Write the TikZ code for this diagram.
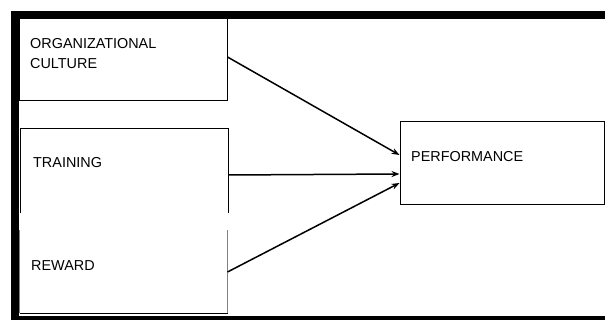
\documentclass[tikz,border=0pt]{standalone}
\usepackage{fontspec}
\setmainfont{Liberation Sans}
\usetikzlibrary{arrows.meta}

\begin{document}
\begin{tikzpicture}[x=1pt, y=-1pt,
    box/.style={rectangle, inner sep=0pt, line width=1pt},
    caption/.style={anchor=west, inner sep=0pt, align=left, font=\fontsize{14.4}{20}\selectfont},
    link/.style={line width=1.5pt, -{Stealth[length=8pt, width=6pt]}}]
    \useasboundingbox (0,0) rectangle (605,320);

    % Frame
    \fill (11,11) rectangle (605,19);
    \fill (11,11) rectangle (19,320);
    \fill (11,316) rectangle (605,320);

    % Organizational culture
    \node[box, draw, minimum width=208pt, minimum height=82pt] (culture) at (123,60) {};
    \node[caption] (culturetext) at (30,54) {ORGANIZATIONAL\\CULTURE};

    % Training (open at the bottom)
    \node[box, minimum width=207pt, minimum height=84pt] (training) at (124.5,171) {};
    \draw[line width=1pt] (training.south west) -- (training.north west) -- (training.north east) -- (training.south east);
    \node[caption] (trainingtext) at (33,163) {TRAINING};

    % Reward (open at the top)
    \node[box, minimum width=207pt, minimum height=82pt] (reward) at (123.5,272) {};
    \draw[line width=1pt, gray] (reward.north west) -- (reward.south west);
    \draw[line width=1pt, gray] (reward.north east) -- (reward.south east);
    \draw[line width=1pt] (reward.south west) -- (reward.south east);
    \node[caption] (rewardtext) at (31,266) {REWARD};

    % Performance
    \node[box, draw, minimum width=204pt, minimum height=83pt] (performance) at (502,163.5) {};
    \node[caption] (performancetext) at (411,157) {PERFORMANCE};

    % Connections
    \draw[link] ([yshift=3pt]culture.east) -- ([yshift=8.5pt]performance.west);
    \draw[link] ([yshift=-4pt]training.east) -- ([yshift=-10.5pt]performance.west);
    \draw[link] (reward.east) -- ([yshift=-19.5pt]performance.west);
\end{tikzpicture}
\end{document}
